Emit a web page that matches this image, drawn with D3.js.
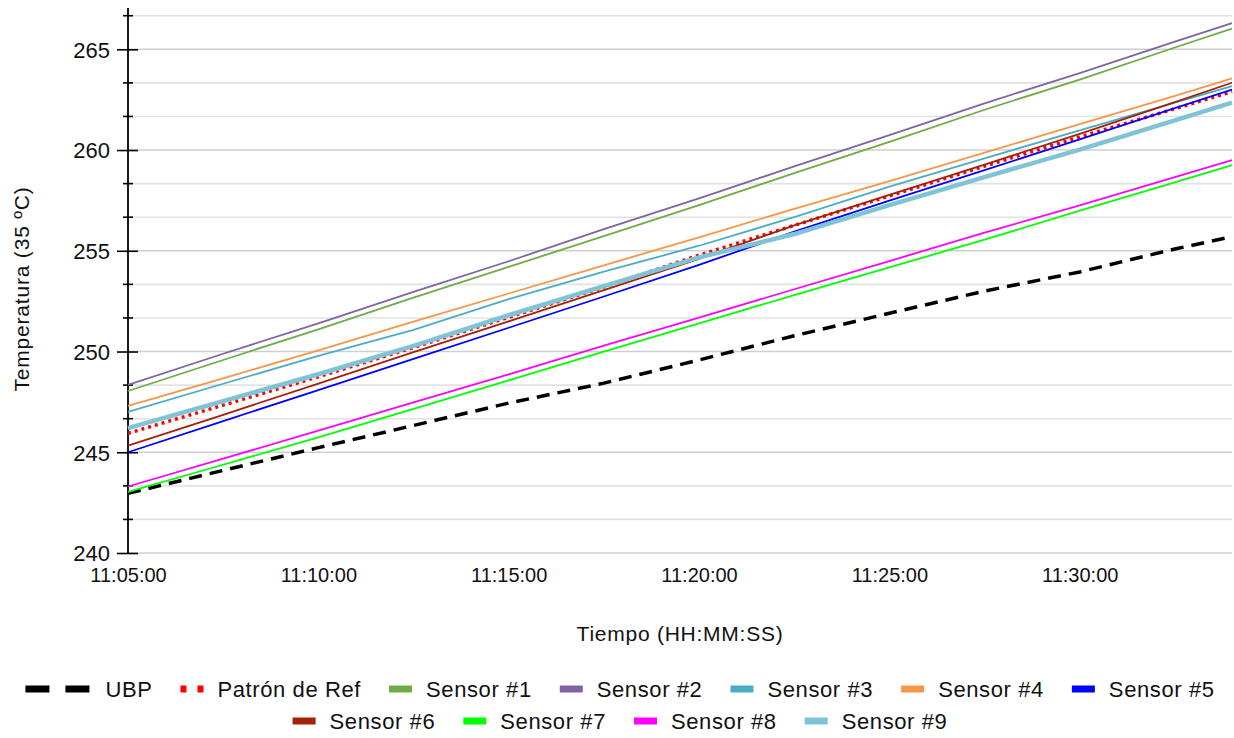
<!DOCTYPE html>
<html>
<head>
<meta charset="utf-8">
<script src="https://d3js.org/d3.v7.min.js"></script>
<style>
  body { margin: 0; background: #fff; }
  svg text { font-family: "Liberation Sans", Arial, sans-serif; fill: #111; }
</style>
</head>
<body>
<div id="chart"></div>
<script>
let times = ['11:05:00', '11:07:30', '11:10:00', '11:12:30', '11:15:00', '11:17:30', '11:20:00',
    '11:22:30', '11:25:00', '11:27:30', '11:30:00', '11:32:30', '11:34:00'];
let ubp = [242.96, 244.10, 245.23, 246.33, 247.44, 248.43, 249.58, 250.78, 251.90, 253.00, 253.95, 255.09, 255.70];
let patron = [245.94, 247.34, 248.75, 250.20, 251.70, 253.20, 254.78, 256.26, 257.72, 259.20, 260.65, 262.05, 262.90];
let sensor1 = [248.04, 249.58, 251.10, 252.67, 254.20, 255.73, 257.27, 258.85, 260.41, 262.00, 263.50, 265.09, 266.03];
let sensor2 = [248.34, 249.89, 251.40, 252.96, 254.48, 256.07, 257.60, 259.19, 260.74, 262.32, 263.82, 265.38, 266.30];
let sensor3 = [247.00, 248.40, 249.78, 251.07, 252.60, 253.96, 255.25, 256.67, 258.18, 259.59, 260.98, 262.35, 263.17];
let sensor4 = [247.30, 248.67, 250.06, 251.48, 252.88, 254.28, 255.67, 257.08, 258.46, 259.87, 261.29, 262.69, 263.56];
let sensor5 = [245.00, 246.55, 248.08, 249.64, 251.18, 252.73, 254.30, 255.95, 257.49, 259.00, 260.53, 262.08, 263.00];
let sensor6 = [245.33, 246.86, 248.41, 249.97, 251.50, 253.05, 254.60, 256.26, 257.77, 259.28, 260.80, 262.38, 263.34];
let sensor7 = [243.03, 244.38, 245.74, 247.15, 248.57, 249.99, 251.40, 252.80, 254.18, 255.55, 256.99, 258.40, 259.25];
let sensor8 = [243.30, 244.68, 246.07, 247.48, 248.87, 250.29, 251.68, 253.09, 254.49, 255.90, 257.25, 258.66, 259.50];
let sensor9 = [246.20, 247.54, 248.87, 250.28, 251.80, 253.25, 254.67, 255.83, 257.27, 258.66, 260.02, 261.47, 262.35];

let seriesNames = ['UBP', 'Patrón de Ref', 'Sensor #1', 'Sensor #2', 'Sensor #3', 'Sensor #4',
    'Sensor #5', 'Sensor #6', 'Sensor #7', 'Sensor #8', 'Sensor #9'];
let seriesValues = [ubp, patron, sensor1, sensor2, sensor3, sensor4, sensor5, sensor6, sensor7, sensor8, sensor9];
let seriesColors = ['#000000', '#ff0000', '#6fac46', '#8064a2', '#4bacc6', '#f79646',
    '#0000ff', '#a5200a', '#00ff00', '#ff00ff', '#7fc3d7'];

let xTicks = ['11:05:00', '11:10:00', '11:15:00', '11:20:00', '11:25:00', '11:30:00'];
let yDomain = [240, 267];
let yMajor = [240, 245, 250, 255, 260, 265];

const width = 1234;
const height = 738;
const margin = {left: 128, right: 2, top: 9, bottom: 185};

let parseTime = d3.timeParse('%H:%M:%S');

var svg = d3
    .select('div#chart')
    .append('svg')
    .attr('width', width)
    .attr('height', height);

var x = d3
    .scaleTime()
    .domain([parseTime(times[0]), parseTime(times[times.length - 1])])
    .range([margin.left, width - margin.right]);

var y = d3
    .scaleLinear()
    .domain(yDomain)
    .range([height - margin.bottom, margin.top]);

// gridlines every 5/3 degree
let yMinor = d3.range(0, 17).map(i => yDomain[0] + i * 5 / 3);
let isMajor = d => yMajor.some(m => Math.abs(m - d) < 0.01);

svg.append('g')
    .selectAll('line')
    .data(yMinor)
    .join('line')
    .attr('x1', margin.left)
    .attr('x2', width - margin.right)
    .attr('y1', d => y(d))
    .attr('y2', d => y(d))
    .attr('stroke', d => isMajor(d) ? '#cfcfcf' : '#e2e2e2')
    .attr('stroke-width', 1.6);

// y axis with major and minor ticks
var yAxis = d3.axisLeft(y)
    .tickValues(yMajor)
    .tickSize(10)
    .tickPadding(6)
    .tickFormat(d3.format('d'));

var gy = svg.append('g')
    .attr('transform', `translate(${margin.left},0)`)
    .call(yAxis);
gy.select('.domain').remove();
gy.selectAll('.tick line')
    .attr('x2', 10)
    .attr('x1', -11)
    .attr('stroke', '#000')
    .attr('stroke-width', 1.6);
gy.selectAll('.tick text')
    .attr('x', -18)
    .attr('dy', '0.36em')
    .attr('fill', '#111')
    .style('font-size', '22px')
    .style('font-family', '"Liberation Sans", Arial, sans-serif');

svg.append('g')
    .selectAll('line')
    .data(yMinor.filter(d => !isMajor(d)))
    .join('line')
    .attr('x1', margin.left - 5)
    .attr('x2', margin.left + 5)
    .attr('y1', d => y(d))
    .attr('y2', d => y(d))
    .attr('stroke', '#000')
    .attr('stroke-width', 1.6);

svg.append('line')
    .attr('x1', margin.left)
    .attr('x2', margin.left)
    .attr('y1', y(yDomain[0]))
    .attr('y2', y(yDomain[1]) - 1)
    .attr('stroke', '#000')
    .attr('stroke-width', 1.8);

// x axis labels only
var xAxis = d3.axisBottom(x)
    .tickValues(xTicks.map(parseTime))
    .tickSize(0)
    .tickPadding(15)
    .tickFormat(d3.timeFormat('%H:%M:%S'));

var gx = svg.append('g')
    .attr('transform', `translate(0,${y(yDomain[0])})`)
    .call(xAxis);
gx.select('.domain').remove();
gx.selectAll('.tick text')
    .attr('fill', '#111')
    .style('font-size', '20px')
    .style('font-family', '"Liberation Sans", Arial, sans-serif');

svg.append('text')
    .attr('transform', `translate(29,289) rotate(-90)`)
    .attr('text-anchor', 'middle')
    .style('font-size', '21px')
    .style('letter-spacing', '0.8px')
    .text('Temperatura (35 ºC)');

svg.append('text')
    .attr('x', 680)
    .attr('y', 641)
    .attr('text-anchor', 'middle')
    .style('font-size', '21px')
    .style('letter-spacing', '0.75px')
    .text('Tiempo (HH:MM:SS)');

// series
var line = d3.line()
    .x((d, i) => x(parseTime(times[i])))
    .y(d => y(d));

function lineWidth(i) {
    if (i === 0) return 3.5;
    if (i === 1) return 3.5;
    if (i === 10) return 4.5;
    return 1.8;
}

function lineDash(i) {
    if (i === 0) return '13,8';
    if (i === 1) return '3,4';
    return null;
}

svg.append('g')
    .selectAll('path')
    .data(seriesValues)
    .join('path')
    .attr('d', d => line(d))
    .attr('fill', 'none')
    .attr('stroke', (d, i) => seriesColors[i])
    .attr('stroke-width', (d, i) => lineWidth(i))
    .attr('stroke-dasharray', (d, i) => lineDash(i));

// legend, two centered rows
let legendRows = [[0, 1, 2, 3, 4, 5, 6], [7, 8, 9, 10]];
let rowY = [689, 721];

legendRows.forEach((row, r) => {
    var g = svg.append('g');
    let cx = 0;
    row.forEach(i => {
        let symW = i === 0 ? 64 : 23;
        let textGap = i === 0 ? 16 : 14;
        var item = g.append('g').attr('transform', `translate(${cx},0)`);
        item.append('line')
            .attr('x1', 0)
            .attr('x2', symW)
            .attr('y1', 0)
            .attr('y2', 0)
            .attr('stroke', seriesColors[i])
            .attr('stroke-width', 7)
            .attr('stroke-dasharray', i === 0 ? '24,16' : (i === 1 ? '6,11' : null));
        var t = item.append('text')
            .attr('x', symW + textGap)
            .attr('y', 7.5)
            .style('font-size', '22px')
            .style('letter-spacing', '0.6px')
            .text(seriesNames[i]);
        cx += symW + textGap + t.node().getComputedTextLength() + 28;
    });
    let rowW = cx - 28;
    g.attr('transform', `translate(${620 - rowW / 2},${rowY[r]})`);
});
</script>
</body>
</html>
